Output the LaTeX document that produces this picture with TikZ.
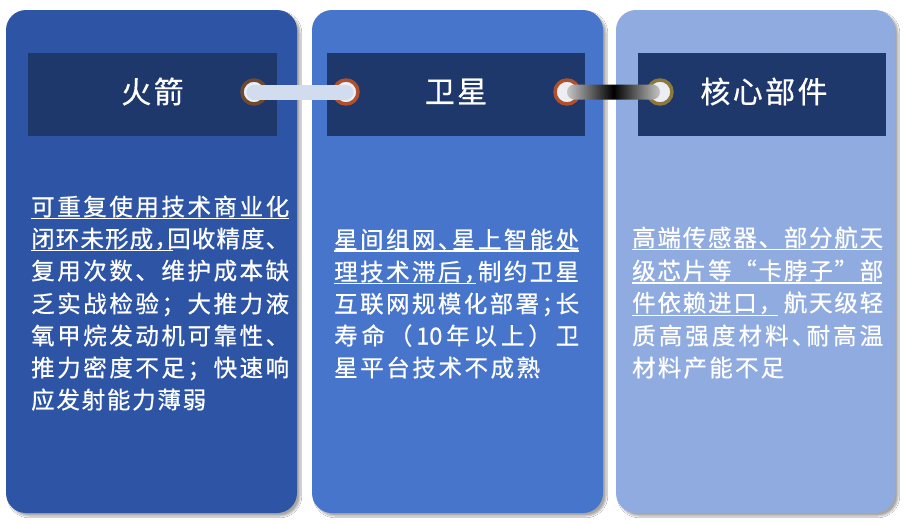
\documentclass[tikz,border=0pt]{standalone}
\usepackage{fontspec}
\usetikzlibrary{shadows.blur}
\newfontfamily\cjk[FakeBold=0.7]{Noto Sans CJK SC}
\newfontfamily\cjkh[RawFeature=+halt,FakeBold=0.7]{Noto Sans CJK SC}
\newfontfamily\cjkt[LetterSpace=8,FakeBold=0.5]{Noto Sans CJK SC}
\definecolor{pone}{HTML}{2E55A5}
\definecolor{ptwo}{HTML}{4775CB}
\definecolor{pthree}{HTML}{8FABE0}
\definecolor{tbox}{HTML}{1F386C}
\definecolor{ringa}{HTML}{6E4A30}
\definecolor{ringb}{HTML}{B0502C}
\definecolor{ringc}{HTML}{8C7A3C}
\definecolor{barone}{HTML}{D2DCEF}
\definecolor{innerw}{HTML}{ECEEF4}
\def\spreadA#1{#1\spreadB}
\def\spreadB#1{\ifx\relax#1\else\hfil#1\expandafter\spreadB\fi}
\newcommand\spr[2]{\makebox[#1][s]{\spreadA#2\relax}}
\newcommand\pcomma{{\cjkh ，}}
\newcommand\pdun{{\cjkh 、}}
\newcommand\psemi{{\cjkh ；}}
\begin{document}
\begin{tikzpicture}[x=1pt,y=-1pt,
  panel/.style={rectangle, rounded corners=20pt, inner sep=0pt,
    blur shadow={shadow xshift=3pt, shadow yshift=-3pt, shadow blur steps=6, shadow opacity=35}},
  titlebox/.style={rectangle, fill=tbox, inner sep=0pt, minimum width=249pt, minimum height=83pt},
  titletext/.style={inner sep=0pt, text=white, font=\cjkt\fontsize{30}{30}\selectfont},
  ringnode/.style={circle, inner sep=0pt, minimum size=24pt, line width=3.5pt, fill=innerw},
  bodyline/.style={anchor=base west, inner sep=0pt, text=white, font=\cjk\fontsize{23.5}{23.5}\selectfont},
  uline/.style={white, line width=1.4pt}
]
\useasboundingbox (0,0) rectangle (907,522);
\fill[white] (0,0) rectangle (907,522);
% panels
\node[panel, fill=pone, minimum width=291pt, minimum height=503pt] (p1) at (151.5,261.5) {};
\node[panel, fill=ptwo, minimum width=291pt, minimum height=503pt] (p2) at (457.5,261.5) {};
\node[panel, fill=pthree, minimum width=279pt, minimum height=503pt] (p3) at (755.5,261.5) {};
% title boxes
\node[titlebox] (t1) at (152.5,94.5) {};
\node[titlebox, minimum width=258pt] (t2) at (456,94.5) {};
\node[titlebox, minimum width=248pt] (t3) at (762,94.5) {};
\node[titletext] (t1x) at ([yshift=3pt]t1.center) {火箭};
\node[titletext] (t2x) at ([yshift=3pt]t2.center) {卫星};
\node[titletext] (t3x) at ([yshift=3pt,xshift=2pt]t3.center) {核心部件};
% rings
\node[ringnode, draw=ringa] (c1) at (254,92) {};
\node[ringnode, draw=ringb] (c2) at (346,92) {};
\node[ringnode, draw=ringb] (c3) at (567,92) {};
\node[ringnode, draw=ringc] (c4) at (660,92) {};
% connectors
\draw[barone, line width=15pt, line cap=round] (c1.center) -- (c2.center);
\shade[left color=gray!45, right color=gray!45, middle color=black, rounded corners=7.4pt]
  ([yshift=7.5pt]c3.center) rectangle ([yshift=-7.5pt]c4.center);
% panel 1 text
\node[bodyline] (a1) at (31,215.5) {\spr{258pt}{可重复使用技术商业化}};
\node[bodyline] (a2) at (31,247.5) {\spr{258pt}{闭环未形成\pcomma 回收精度、}};
\node[bodyline] (a3) at (31,279.5) {\spr{258pt}{复用次数、维护成本缺}};
\node[bodyline] (a4) at (31,312.5) {\spr{258pt}{乏实战检验；大推力液}};
\node[bodyline] (a5) at (31,344.5) {\spr{258pt}{氧甲烷发动机可靠性、}};
\node[bodyline] (a6) at (31,376.5) {\spr{258pt}{推力密度不足；快速响}};
\node[bodyline] (a7) at (31,408.5) {\spr{175pt}{应发射能力薄弱}};
\coordinate (ua1) at (289,218.5);
\coordinate (ua2) at (173,250.5);
\draw[uline] (a1.west |- ua1) -- (ua1);
\draw[uline] (a2.west |- ua2) -- (ua2);
% panel 2 text
\node[bodyline] (b1) at (334,248.5) {\spr{245pt}{星间组网\pdun 星上智能处}};
\node[bodyline] (b2) at (334,280.5) {\spr{245pt}{理技术滞后\pcomma 制约卫星}};
\node[bodyline] (b3) at (334,312.5) {\spr{245pt}{互联网规模化部署\psemi 长}};
\node[bodyline] (b4) at (334,344.5) {\spr{245pt}{寿命（{10}年以上）卫}};
\node[bodyline] (b5) at (334,376.5) {\spr{206pt}{星平台技术不成熟}};
\coordinate (ub1) at (579,251);
\coordinate (ub2) at (476,283.5);
\draw[uline] (b1.west |- ub1) -- (ub1);
\draw[uline] (b2.west |- ub2) -- (ub2);
% panel 3 text
\node[bodyline] (d1) at (632,246.5) {\spr{251pt}{高端传感器、部分航天}};
\node[bodyline] (d2) at (632,279.5) {\spr{251pt}{级芯片等“卡脖子”部}};
\node[bodyline] (d3) at (632,311.5) {\spr{251pt}{件依赖进口，航天级轻}};
\node[bodyline] (d4) at (632,344.5) {\spr{251pt}{质高强度材料\pdun 耐高温}};
\node[bodyline] (d5) at (632,376.5) {\spr{152pt}{材料产能不足}};
\coordinate (ud1) at (882,249.5);
\coordinate (ud2) at (882,283);
\coordinate (ud3) at (778,315.5);
\draw[uline] (d1.west |- ud1) -- (ud1);
\draw[uline] (d2.west |- ud2) -- (ud2);
\draw[uline] (d3.west |- ud3) -- (ud3);
\end{tikzpicture}
\end{document}
